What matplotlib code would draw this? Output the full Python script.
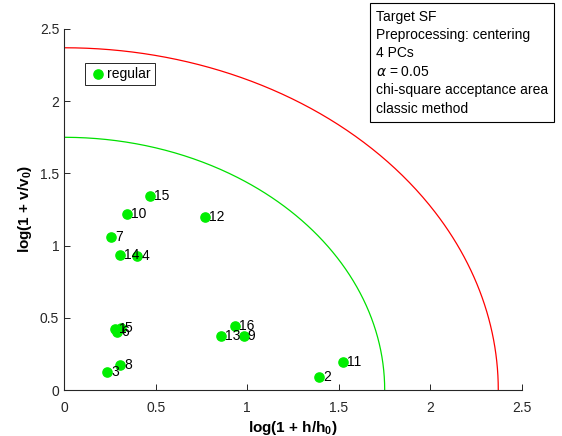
import numpy as np
import matplotlib.pyplot as plt

plt.rcParams['font.family'] = ['Liberation Sans', 'DejaVu Sans']

# sample coordinates in the log-scaled score/orthogonal distance plane
sample_ids = list(range(1, 17))
h_log = [0.28, 1.394, 0.235, 0.40, 0.31, 0.288, 0.255, 0.306,
         0.981, 0.346, 1.523, 0.770, 0.859, 0.304, 0.469, 0.935]
v_log = [0.425, 0.088, 0.122, 0.930, 0.432, 0.402, 1.062, 0.173,
         0.374, 1.217, 0.196, 1.196, 0.374, 0.935, 1.343, 0.441]

# acceptance boundaries (radius in log units)
r_regular = 1.75
r_extreme = 2.37

info_lines = ["Target SF", "Preprocessing: centering", "4 PCs",
              r"$\alpha$ = 0.05", "chi-square acceptance area", "classic method"]

fig = plt.figure(figsize=(5.62, 4.36), dpi=100)
ax = fig.add_axes([0.114, 0.1055, 0.815, 0.828])

t = np.linspace(0, np.pi / 2, 300)
ax.plot(r_regular * np.cos(t), r_regular * np.sin(t), color='#00e000', lw=0.9)
ax.plot(r_extreme * np.cos(t), r_extreme * np.sin(t), color='red', lw=0.9)

ax.scatter(h_log, v_log, s=44, color='#00ee00', zorder=3, label='regular')
for i, x, y in zip(sample_ids, h_log, v_log):
    ax.text(x + 0.022, y, str(i), fontsize=10, va='center', ha='left', zorder=4)

ax.set_xlim(0, 2.5)
ax.set_ylim(0, 2.5)
ax.set_xticks(np.arange(0, 2.51, 0.5))
ax.set_yticks(np.arange(0, 2.51, 0.5))
ax.set_xticklabels(['0', '0.5', '1', '1.5', '2', '2.5'])
ax.set_yticklabels(['0', '0.5', '1', '1.5', '2', '2.5'])
for s in ['top', 'right']:
    ax.spines[s].set_visible(False)
for s in ['left', 'bottom']:
    ax.spines[s].set_color('#262626')
    ax.spines[s].set_linewidth(0.8)
ax.tick_params(direction='in', length=4, width=0.7, colors='#262626',
               labelsize=10, labelcolor='#262626')
ax.tick_params(axis='x', pad=8)

ax.set_xlabel(r'log(1 + h/h$_\mathregular{0}$)', fontsize=11, fontweight='bold',
              labelpad=3)
ax.set_ylabel(r'log(1 + v/v$_\mathregular{0}$)', fontsize=11, fontweight='bold')

leg = ax.legend(loc='upper left', bbox_to_anchor=(0.046, 0.906), borderaxespad=0,
                fontsize=10, handletextpad=0.1, borderpad=0.3, handlelength=1.2,
                fancybox=False, edgecolor='#262626', framealpha=1)
leg.get_frame().set_linewidth(0.7)

fig.text(0.669, 0.978, "\n".join(info_lines), fontsize=10, va='top', ha='left',
         linespacing=1.4,
         bbox=dict(boxstyle='square,pad=0.45', fc='white', ec='black', lw=0.8))

fig.savefig('out.png', dpi=100)
